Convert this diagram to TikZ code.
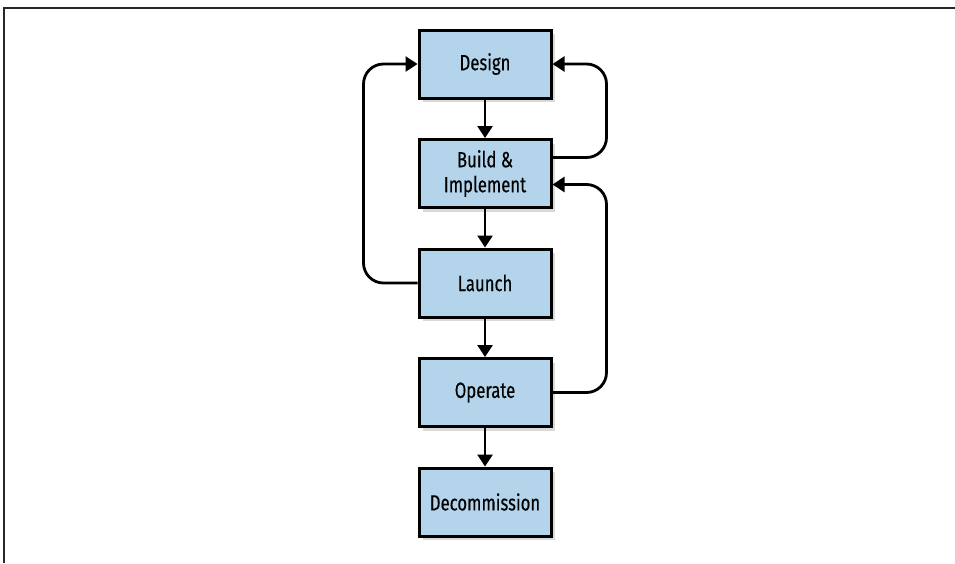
\documentclass[tikz,border=0pt]{standalone}
\usepackage{fontspec}
\setmainfont[FakeStretch=0.76, FakeBold=0.3]{Fira Sans}
\usepackage{xcolor}
\definecolor{stagefill}{RGB}{179, 212, 234}
\definecolor{framecol}{RGB}{40, 40, 40}
\usepackage{tikz}
\usetikzlibrary{positioning, arrows.meta, shadows}

\begin{document}
\begin{tikzpicture}[node distance=38.5pt, x=1pt, y=1pt]

  \tikzstyle{stagebox} = [
    draw=black, line width=3pt, fill=stagefill,
    minimum width=132pt, minimum height=68pt,
    align=center, font=\fontsize{22}{25}\selectfont,
    drop shadow={shadow xshift=4pt, shadow yshift=-4pt, opacity=0.3}
  ]
  \tikzstyle{flow} = [
    line width=2.8pt, draw=black,
    -{Triangle[length=12pt, width=15pt]}
  ]
  \tikzstyle{loopback} = [flow, rounded corners=20pt]

  \useasboundingbox (0,0) rectangle (955,-563);
  \draw[line width=2pt, color=framecol] (4,-563) -- (4,-8) -- (955,-8);

  \node[stagebox] (design) at (485,-64) {Design};
  \node[stagebox, below=of design] (build) {Build \&\\Implement};
  \node[stagebox, below=of build] (launch) {Launch};
  \node[stagebox, below=of launch] (operate) {Operate};
  \node[stagebox, below=of operate] (decomm) {Decommission};

  \draw[flow] (design.south) -- (build.north);
  \draw[flow] (build.south) -- (launch.north);
  \draw[flow] (launch.south) -- (operate.north);
  \draw[flow] (operate.south) -- (decomm.north);

  \draw[loopback] (launch.west) -- ++(-54,0) |- (design.west);
  \draw[loopback] ([yshift=16pt]build.east) -- ++(54,0) |- (design.east);
  \draw[loopback] (operate.east) -- ++(54,0) |- ([yshift=-11pt]build.east);

\end{tikzpicture}
\end{document}
